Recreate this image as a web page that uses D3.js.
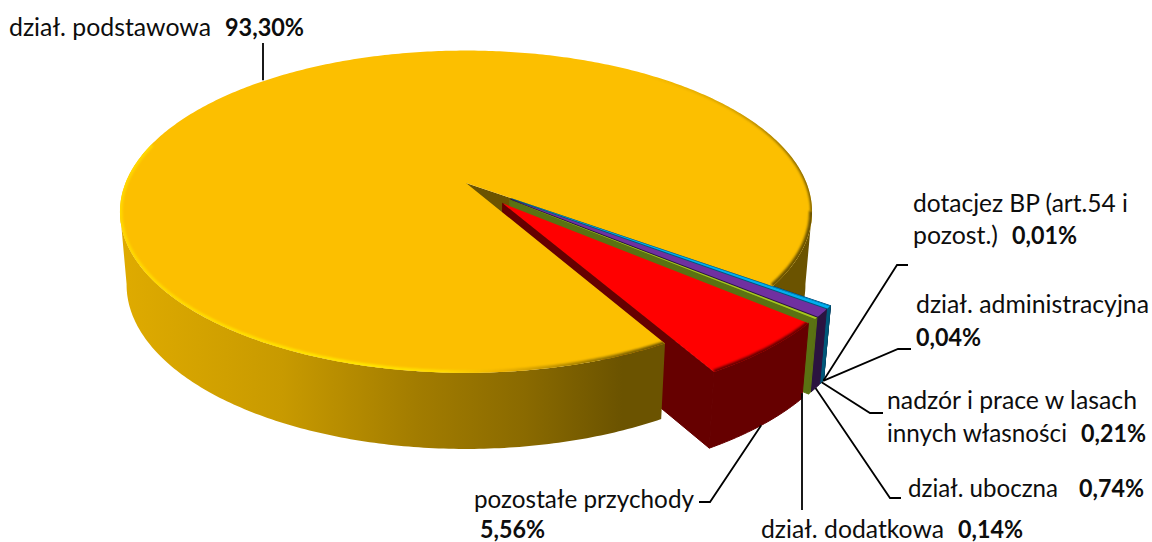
<!DOCTYPE html>
<html><head><meta charset="utf-8">
<script src="https://cdnjs.cloudflare.com/ajax/libs/d3/7.8.5/d3.min.js"></script>
<style>html,body{margin:0;padding:0;background:#fff;overflow:hidden}svg{display:block}</style>
</head><body><svg id="c" width="1152" height="542"></svg>
<script>
const categories = ["dział. podstawowa","dotacjez BP (art.54 i pozost.)","dział. administracyjna","nadzór i prace w lasach innych własności","dział. uboczna","dział. dodatkowa","pozostałe przychody"];
const seriesValues = [93.30,0.01,0.04,0.21,0.74,0.14,5.56];
const topColors  = ["#fcbf00","#0f6fc6","#009dd9","#00aef0","#7030a0","#a6c81e","#ff0000"];
const sideColors = ["#6b5300","#08385f","#004f6e","#00587a","#2b1340","#5a7212","#660000"];
const pctLabels = ["93,30%","0,01%","0,04%","0,21%","0,74%","0,14%","5,56%"];

const svg = d3.select("#c");
const defs = svg.append("defs");
const rad = d=>d*Math.PI/180;
const pieStart = rad(150.4), explode = 0.165, persp = 0.178, apex = {x:466,y:183};
const scaleW = d3.scaleLinear().domain([0,1]).range([340.5,334]);
const scaleH = d3.scaleLinear().domain([0,1]).range([156,159]);
const drop = d3.scaleLinear().domain([0,1]).range([0,72.5]);
const project = (u,v,z) => { const d = 1-persp*v;
  return [apex.x+scaleW(z)*u/d, apex.y+drop(z)+scaleH(z)*v/d]; };
const arcs = d3.pie().sort(null).startAngle(pieStart).endAngle(pieStart+2*Math.PI)(seriesValues);
const line = d3.line();
const closed = pts => line(pts)+"Z";
const offs = arcs.map((a,i)=>{ if(i===0) return [0,0]; const m=(a.startAngle+a.endAngle)/2; return [explode*Math.sin(m),-explode*Math.cos(m)]; });
const rimPt = (i,t,z) => project(offs[i][0]+Math.sin(t), offs[i][1]-Math.cos(t), z);
const centerPt = (i,z) => project(offs[i][0],offs[i][1],z);
const rim = (i,a,b,z) => { const n=Math.max(2,Math.ceil(Math.abs(b-a)*80)); return d3.range(n+1).map(k=>rimPt(i,a+(b-a)*k/n,z)); };

const grad=(id,stops,x1,x2)=>{const g=defs.append("linearGradient").attr("id",id).attr("gradientUnits","userSpaceOnUse").attr("x1",x1).attr("x2",x2).attr("y1",0).attr("y2",0);
  stops.forEach(s=>g.append("stop").attr("offset",s[0]).attr("stop-color",s[1]).attr("stop-opacity",s[2]===undefined?1:s[2]));};
grad("wall",[[0,"#dfab00"],[0.3,"#c89a00"],[0.55,"#a27c00"],[0.75,"#8a6a00"],[0.93,"#6b5300"],[1,"#6b5300"]],120,660);
grad("bevL",[[0,"#ffd800"],[0.45,"#ffe600"],[0.6,"#ffdc00"],[0.7,"#f0b400"],[0.85,"#a88200"],[1,"#6b5300"]],119,660);
grad("bevR",[[0,"#6b5300",0],[0.55,"#6b5300",0.3],[1,"#6b5300",0.9]],640,812);
defs.append("filter").attr("id","soft").attr("x","-5%").attr("y","-5%").attr("width","110%").attr("height","110%").append("feGaussianBlur").attr("stdDeviation",0.9);

const g = svg.append("g");
const a0 = arcs[0], mainEnd = a0.endAngle;
const wallPath = (i,a,b) => closed(rim(i,a,b,0).concat(rim(i,a,b,1).reverse()));
const rimEnd = (i,t) => closed([centerPt(i,0),rimPt(i,t,0),rimPt(i,t,1),centerPt(i,1)]);

// back part of the main slice: its cut face and right wall
g.append("path").attr("d",rimEnd(0,mainEnd)).attr("fill",sideColors[0]);
g.append("path").attr("d",wallPath(0,rad(360+100),mainEnd)).attr("fill",sideColors[0]);

// exploded slices
arcs.slice(1).forEach((a,j)=>{ const i=j+1;
  g.append("path").attr("d",rimEnd(i,a.endAngle)).attr("fill",sideColors[i]).attr("stroke",sideColors[i]).attr("stroke-width",1);
  g.append("path").attr("d",wallPath(i,a.startAngle,a.endAngle)).attr("fill",sideColors[i]).attr("stroke",sideColors[i]).attr("stroke-width",1);
  const top=closed([centerPt(i,0)].concat(rim(i,a.startAngle,a.endAngle,0)));
  g.append("path").attr("d",top).attr("fill",topColors[i]);
  if(i===6){
    defs.append("clipPath").attr("id","clipS"+i).append("path").attr("d",top);
    g.append("g").attr("clip-path","url(#clipS"+i+")").append("path")
      .attr("d",line(rim(i,a.startAngle,a.endAngle,0))).attr("fill","none")
      .attr("stroke",sideColors[i]).attr("stroke-width",5).attr("filter","url(#soft)");
  }
});

// front of the main slice, over the exploded slice's cut face
g.append("path").attr("d",wallPath(0,pieStart,rad(260))).attr("fill","url(#wall)");
const mainTop=closed([centerPt(0,0)].concat(rim(0,pieStart,mainEnd,0)));
g.append("path").attr("d",mainTop).attr("fill",topColors[0]);
defs.append("clipPath").attr("id","clipM").append("path").attr("d",mainTop);
const bev=g.append("g").attr("clip-path","url(#clipM)");
bev.append("path").attr("d",line(rim(0,pieStart,rad(285),0))).attr("fill","none").attr("stroke","url(#bevL)").attr("stroke-width",5).attr("filter","url(#soft)");
bev.append("path").attr("d",line(rim(0,rad(360+30),rad(360+100),0))).attr("fill","none").attr("stroke","url(#bevR)").attr("stroke-width",3.5).attr("filter","url(#soft)");
bev.append("path").attr("d",line(rim(0,rad(360+100),mainEnd,0))).attr("fill","none").attr("stroke",sideColors[0]).attr("stroke-width",6).attr("filter","url(#soft)");

// leader lines: start on each slice's rim, run to an elbow next to its label
const midOf=i=>(arcs[i].startAngle+arcs[i].endAngle)/2;
const leaderElbows=[[[263,43]],[[897,265],[908,265]],[[898,349],[911,349]],[[870,413],[883,413]],[[890,498],[901,498]],[[802,510]],[[710,502],[699,502]]];
leaderElbows.forEach((e,i)=>{
  let s = i===0 ? rimPt(0,midOf(0),0) : rimPt(i,midOf(i),1);
  if(i===5) s=[802,s[1]];
  if(i===0) s=[263,s[1]];
  g.append("path").attr("d",line([s].concat(e))).attr("fill","none").attr("stroke","#000").attr("stroke-width",1.8);
});

// labels
const labelRuns=[
 [categories[0],9,36,202,0],[pctLabels[0],225,36,79,1],
 ["dotacjez BP (art.54 i",913,212,215,0],["pozost.)",913,244,85,0],[pctLabels[1],1012,244,65,1],
 [categories[2],916,313,233,0],[pctLabels[2],916,346,65,1],
 ["nadzór i prace w lasach",887,409,250,0],["innych własności",887,442,180,0],[pctLabels[3],1081,442,65,1],
 [categories[4],908,497,150,0],[pctLabels[4],1079,497,65,1],
 [categories[5],761,538,183,0],[pctLabels[5],958,538,65,1],
 [categories[6],474,508,220,0],[pctLabels[6],480,538,65,1]];
svg.append("g").selectAll("text").data(labelRuns).join("text")
 .attr("x",d=>d[1]).attr("y",d=>d[2]).attr("textLength",d=>d[3]).attr("lengthAdjust","spacingAndGlyphs")
 .attr("font-family","Lato, 'Open Sans', sans-serif").attr("font-size",24.5).attr("font-weight",d=>d[4]?700:400)
 .attr("fill","#0d0d0d").text(d=>d[0]);
</script></body></html>
